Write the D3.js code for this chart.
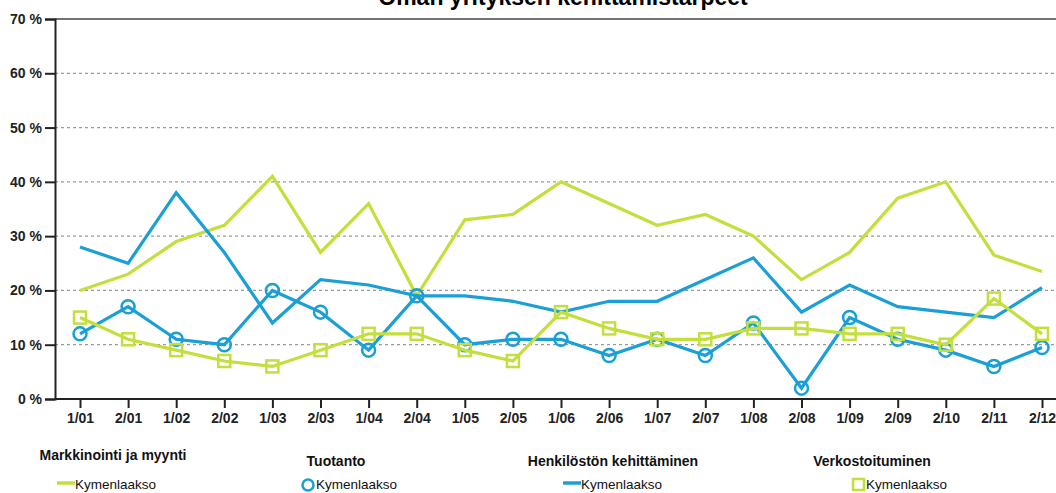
<!DOCTYPE html>
<html>
<head>
<meta charset="utf-8">
<script src="https://cdn.jsdelivr.net/npm/d3@7"></script>
<style>
  body { margin: 0; background: #fff; }
  svg { display: block; font-family: "Liberation Sans", Arial, sans-serif; }
</style>
</head>
<body>
<div id="chart"></div>
<script>
// data
const periods = ["1/01", "2/01", "1/02", "2/02", "1/03", "2/03", "1/04", "2/04", "1/05", "2/05", "1/06",
  "2/06", "1/07", "2/07", "1/08", "2/08", "1/09", "2/09", "2/10", "2/11", "2/12"];
const yTicks = [0, 10, 20, 30, 40, 50, 60, 70];

const markkinointi = [20, 23, 29, 32, 41, 27, 36, 19, 33, 34, 40, 36, 32, 34, 30, 22, 27, 37, 40, 26.5, 23.5];
const tuotanto = [12, 17, 11, 10, 20, 16, 9, 19, 10, 11, 11, 8, 11, 8, 14, 2, 15, 11, 9, 6, 9.5];
const henkilosto = [28, 25, 38, 27, 14, 22, 21, 19, 19, 18, 16, 18, 18, 22, 26, 16, 21, 17, 16, 15, 20.5];
const verkosto = [15, 11, 9, 7, 6, 9, 12, 12, 9, 7, 16, 13, 11, 11, 13, 13, 12, 12, 10, 18.5, 12];

const green = "#c3df3c";
const blue = "#1a9fd6";

const series = [
  { title: "Markkinointi ja myynti", values: markkinointi, color: green, marker: null },
  { title: "Tuotanto", values: tuotanto, color: blue, marker: "circle" },
  { title: "Henkilöstön kehittäminen", values: henkilosto, color: blue, marker: null },
  { title: "Verkostoituminen", values: verkosto, color: green, marker: "square" }
];

const width = 1056, height = 493;
const plotLeft = 55, plotTop = 19, plotBottom = 399;

const svg = d3.select("#chart").append("svg")
  .attr("width", width)
  .attr("height", height);

const x = d3.scalePoint().domain(periods).range([80, 1042]);
const y = d3.scaleLinear().domain([0, 70]).range([plotBottom, plotTop]);

// title, mostly cut off at top (as in the original)
svg.append("text")
  .attr("x", 563)
  .attr("y", 5)
  .attr("text-anchor", "middle")
  .style("font-size", "23px")
  .style("font-weight", "bold")
  .text("Oman yrityksen kehittämistarpeet");

// gridlines
svg.append("g")
  .selectAll("line")
  .data(yTicks.filter(d => d > 0 && d < 70))
  .enter()
  .append("line")
  .attr("x1", plotLeft)
  .attr("x2", width)
  .attr("y1", d => y(d))
  .attr("y2", d => y(d))
  .attr("stroke", "#9a9a9a")
  .attr("stroke-width", 1.2)
  .attr("stroke-dasharray", "3,3");

svg.append("line")
  .attr("x1", plotLeft).attr("x2", width)
  .attr("y1", y(70)).attr("y2", y(70))
  .attr("stroke", "#444").attr("stroke-width", 1.5);

// axes
const yAxis = svg.append("g")
  .attr("transform", `translate(${plotLeft},0)`)
  .call(d3.axisLeft(y).tickValues(yTicks).tickSize(10).tickPadding(3).tickFormat(d => d + " %"));
yAxis.select(".domain").attr("stroke", "#222").attr("stroke-width", 2);
yAxis.selectAll(".tick line").attr("stroke", "#222").attr("stroke-width", 2);
yAxis.selectAll("text")
  .style("font-size", "14px")
  .style("font-weight", "bold")
  .attr("fill", "#222");

const xAxis = svg.append("g")
  .attr("transform", `translate(0,${plotBottom})`)
  .call(d3.axisBottom(x).tickSize(9).tickPadding(5));
xAxis.select(".domain").attr("d", `M${plotLeft},0H${width}`).attr("stroke", "#222").attr("stroke-width", 2);
xAxis.selectAll(".tick line").attr("stroke", "#222").attr("stroke-width", 2);
xAxis.selectAll("text")
  .style("font-size", "14px")
  .style("font-weight", "bold")
  .attr("fill", "#222");

// lines
const line = d3.line()
  .x((d, i) => x(periods[i]))
  .y(d => y(d));

series.forEach(s => {
  svg.append("path")
    .datum(s.values)
    .attr("fill", "none")
    .attr("stroke", s.color)
    .attr("stroke-width", 3.2)
    .attr("stroke-linejoin", "miter")
    .attr("d", line);

  if (s.marker === "circle") {
    svg.append("g").selectAll("circle")
      .data(s.values)
      .enter()
      .append("circle")
      .attr("cx", (d, i) => x(periods[i]))
      .attr("cy", d => y(d))
      .attr("r", 6.5)
      .attr("fill", "none")
      .attr("stroke", s.color)
      .attr("stroke-width", 2.5);
  } else if (s.marker === "square") {
    svg.append("g").selectAll("rect")
      .data(s.values)
      .enter()
      .append("rect")
      .attr("x", (d, i) => x(periods[i]) - 6)
      .attr("y", d => y(d) - 6)
      .attr("width", 12)
      .attr("height", 12)
      .attr("fill", "none")
      .attr("stroke", s.color)
      .attr("stroke-width", 2.5);
  }
});

// legend
const legendPos = [
  { cx: 113, ty: 460, sx: 57 },
  { cx: 336, ty: 466, sx: 302 },
  { cx: 613, ty: 466, sx: 563 },
  { cx: 872, ty: 466, sx: 852 }
];

series.forEach((s, i) => {
  const p = legendPos[i];
  const g = svg.append("g");
  g.append("text")
    .attr("x", p.cx)
    .attr("y", p.ty)
    .attr("text-anchor", "middle")
    .style("font-size", "14px")
    .style("font-weight", "bold")
    .attr("fill", "#111")
    .text(s.title);

  let tx;
  if (s.marker === "circle") {
    g.append("circle").attr("cx", p.sx + 6).attr("cy", 485).attr("r", 5.5)
      .attr("fill", "none").attr("stroke", s.color).attr("stroke-width", 2.5);
    tx = p.sx + 14;
  } else if (s.marker === "square") {
    g.append("rect").attr("x", p.sx + 1).attr("y", 479).attr("width", 11).attr("height", 11)
      .attr("fill", "none").attr("stroke", s.color).attr("stroke-width", 2.5);
    tx = p.sx + 14;
  } else {
    g.append("line").attr("x1", p.sx).attr("x2", p.sx + 18).attr("y1", 483).attr("y2", 483)
      .attr("stroke", s.color).attr("stroke-width", 3.5);
    tx = p.sx + 18;
  }
  g.append("text")
    .attr("x", tx)
    .attr("y", 489)
    .style("font-size", "13.5px")
    .attr("fill", "#111")
    .text("Kymenlaakso");
});
</script>
</body>
</html>
